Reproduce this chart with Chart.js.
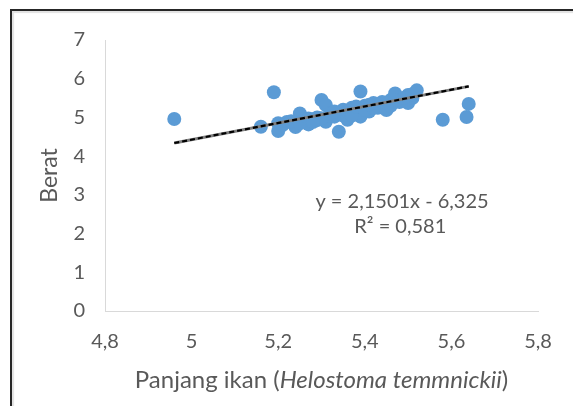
<!DOCTYPE html>
<html>
<head>
<meta charset="utf-8">
<script src="https://cdn.jsdelivr.net/npm/chart.js@4/dist/chart.umd.min.js"></script>
<style>
  html, body { margin: 0; padding: 0; background: #fff; }
  #wrap { position: relative; width: 573px; height: 406px; overflow: hidden; }
  #frame { position: absolute; left: 10px; top: 9px; width: 700px; height: 500px;
           border-left: 2px solid #262626; border-top: 2px solid #262626;
           box-shadow: inset 2px 2px 1px #e2e2e2; }
  canvas { position: absolute; left: 0; top: 0; }
</style>
</head>
<body>
<div id="wrap">
  <div id="frame"></div>
  <canvas id="c" width="573" height="406"></canvas>
</div>
<script>
// Panjang ikan (length) values
const lengthX = [4.96, 5.19, 5.16, 5.20, 5.20, 5.22, 5.24, 5.25, 5.26, 5.27, 5.28, 5.29,
                 5.30, 5.31, 5.31, 5.32, 5.33, 5.34, 5.34, 5.35, 5.35, 5.36, 5.37, 5.38,
                 5.39, 5.39, 5.40, 5.41, 5.42, 5.43, 5.44, 5.45, 5.46, 5.47, 5.48, 5.50,
                 5.50, 5.51, 5.52, 5.58, 5.635, 5.64,
                 5.21, 5.23, 5.25, 5.27, 5.29, 5.30, 5.32, 5.33, 5.36, 5.37, 5.38, 5.40,
                 5.42, 5.44, 5.46, 5.47, 5.49, 5.51, 5.28, 5.41];
// Berat (weight) values
const weightY = [4.96, 5.65, 4.76, 4.85, 4.65, 4.88, 4.75, 5.10, 4.90, 4.82, 4.95, 4.93,
                 5.45, 5.32, 4.89, 5.05, 5.02, 4.63, 5.12, 5.20, 5.05, 4.94, 5.25, 5.10,
                 5.67, 5.02, 5.30, 5.15, 5.37, 5.25, 5.32, 5.19, 5.45, 5.62, 5.40, 5.58,
                 5.37, 5.50, 5.70, 4.94, 5.01, 5.35,
                 4.80, 4.90, 4.85, 4.97, 5.00, 4.98, 5.10, 5.15, 5.15, 5.05, 5.28, 5.20,
                 5.25, 5.40, 5.30, 5.45, 5.50, 5.60, 4.88, 5.33];
// Linear trendline as printed on the chart
const slope = 2.1501;
const intercept = -6.325;
const trendX = [4.96, 5.64];
const xTicks = [4.8, 5.0, 5.2, 5.4, 5.6, 5.8];
const xTickLabels = ['4,8', '5', '5,2', '5,4', '5,6', '5,8'];
const yTicks = [0, 1, 2, 3, 4, 5, 6, 7];
const yTickLabels = ['0', '1', '2', '3', '4', '5', '6', '7'];
const eqLines = ['y = 2,1501x - 6,325', 'R\u00B2 = 0,581'];
const eqPos = [[5.486, 2.82], [5.482, 2.17]];
const yTitle = 'Berat';
const xTitleParts = [['Panjang ikan (', 'normal'], ['Helostoma temmnickii', 'italic'], [')', 'normal']];

const FONT = 'Lato';
const TXT = '#595959';

const scatterPts = lengthX.map((x, i) => ({ x: x, y: weightY[i] }));
const trendPts = trendX.map(x => ({ x: x, y: slope * x + intercept }));

const textPlugin = {
  id: 'texts',
  afterDraw(chart) {
    const ctx = chart.ctx;
    const xs = chart.scales.x, ys = chart.scales.y;
    ctx.save();
    ctx.fillStyle = TXT;
    ctx.textBaseline = 'middle';
    ctx.textAlign = 'center';
    ctx.font = '20px ' + FONT;
    eqLines.forEach((t, i) => {
      ctx.fillText(t, xs.getPixelForValue(eqPos[i][0]), ys.getPixelForValue(eqPos[i][1]));
    });
    // x axis title with italic species name
    ctx.textAlign = 'left';
    const fs = 24;
    let total = 0;
    const widths = xTitleParts.map(p => {
      ctx.font = (p[1] === 'italic' ? 'italic ' : '') + fs + 'px ' + FONT;
      const w = ctx.measureText(p[0]).width;
      total += w;
      return w;
    });
    let x = (chart.chartArea.left + chart.chartArea.right) / 2 - total / 2;
    const y = 380;
    xTitleParts.forEach((p, i) => {
      ctx.font = (p[1] === 'italic' ? 'italic ' : '') + fs + 'px ' + FONT;
      ctx.fillText(p[0], x, y);
      x += widths[i];
    });
    ctx.restore();
  }
};

new Chart(document.getElementById('c'), {
  type: 'scatter',
  data: {
    datasets: [
      {
        type: 'line', data: trendPts, borderColor: '#000', borderWidth: 2.2,
        borderDash: [5, 3], pointRadius: 0, fill: false, order: 0
      },
      {
        type: 'line', data: trendPts, borderColor: '#7f7f7f', borderWidth: 3,
        pointRadius: 0, fill: false, order: 1
      },
      {
        data: scatterPts, backgroundColor: '#5B9BD5', borderColor: '#5B9BD5',
        pointRadius: 7, pointHoverRadius: 7, borderWidth: 0, order: 2
      }
    ]
  },
  options: {
    responsive: false,
    animation: false,
    events: [],
    layout: { padding: { left: 36, top: 40, right: 35, bottom: 0 } },
    plugins: { legend: { display: false }, tooltip: { enabled: false } },
    scales: {
      x: {
        type: 'linear', min: 4.8, max: 5.8,
        afterBuildTicks: s => { s.ticks = xTicks.map(v => ({ value: v })); },
        afterFit: s => { s.height = 95; },
        ticks: {
          callback: (v, i) => xTickLabels[i],
          color: TXT, font: { family: FONT, size: 20 }, padding: 19, maxRotation: 0
        },
        grid: { display: false, drawTicks: false },
        border: { display: true, color: '#d9d9d9', width: 1 }
      },
      y: {
        type: 'linear', min: 0, max: 7,
        afterBuildTicks: s => { s.ticks = yTicks.map(v => ({ value: v })); },
        afterFit: s => { s.width = 69; },
        ticks: {
          callback: (v, i) => yTickLabels[i],
          color: TXT, font: { family: FONT, size: 20 }, padding: 20
        },
        grid: { display: false, drawTicks: false },
        border: { display: true, color: '#d9d9d9', width: 1 },
        title: {
          display: true, text: yTitle, color: TXT,
          font: { family: FONT, size: 23 }, padding: 0
        }
      }
    }
  },
  plugins: [textPlugin]
});
</script>
</body>
</html>
